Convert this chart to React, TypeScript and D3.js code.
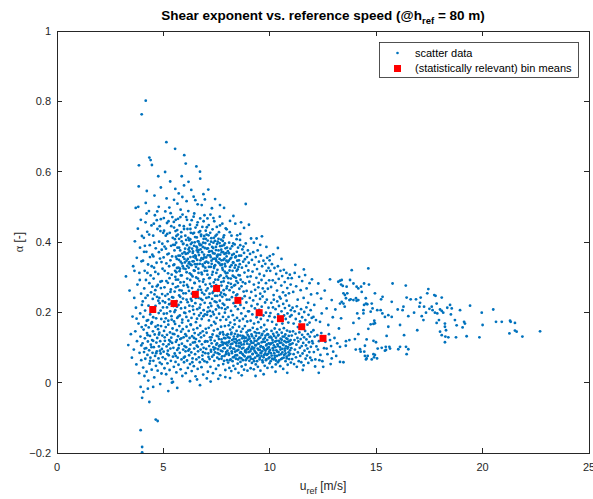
import React from "react";
import * as d3 from "d3";

const X_TICKS = [0, 5, 10, 15, 20, 25];
const Y_TICKS = [-0.2, 0, 0.2, 0.4, 0.6, 0.8, 1];

const binCenters = [4.5, 5.5, 6.5, 7.5, 8.5, 9.5, 10.5, 11.5, 12.5];
const binMeans = [0.208, 0.225, 0.251, 0.268, 0.234, 0.199, 0.182, 0.159, 0.126];

const scatter3 = [[3.24,.302],[3.35,.107],[3.41,.262],[3.47,.138],[3.52,.071],[3.55,.188],[3.58,.331],[3.61,.094],[3.63,.241],[3.66,.402],[3.68,.146],[3.70,.497],[3.71,.213],[3.73,.052],[3.75,.355],[3.76,.118],[3.78,.279],[3.80,.438],[3.82,.500],[3.83,.168],[3.84,.558],[3.85,.618],[3.86,.027],[3.87,.312],[3.88,.085],[3.90,.384],[3.91,.197],[3.92,.131],[3.93,-.012],[3.93,-.135],[3.94,.463],[3.95,.253],[3.96,.064],[3.97,.345],[3.98,.763],[3.98,.158],[3.99,.221],[3.99,.417],[4.00,-.043],[4.00,-.183],[4.00,-.198],[3.89,.292],[3.74,.182],[3.64,.318],[3.96,.106]];

const scatter4 = [[4.02,.112],[4.05,.043],[4.07,.151],[4.09,.087],[4.11,.019],[4.13,.126],[4.15,.068],[4.17,.163],[4.19,.098],[4.21,.031],[4.23,.141],[4.25,.079],[4.27,.117],[4.29,.006],[4.31,.157],[4.33,.092],[4.35,.054],[4.37,.133],[4.39,.071],[4.41,.108],[4.43,.168],[4.45,.037],[4.47,.121],[4.49,.085],[4.51,.146],[4.53,.062],[4.55,.101],[4.57,.015],[4.59,.137],[4.61,.076],[4.63,.159],[4.65,.048],[4.67,.114],[4.69,.089],[4.71,.127],[4.73,.034],[4.75,.152],[4.77,.069],[4.79,.103],[4.81,.142],[4.83,.057],[4.85,.118],[4.87,.083],[4.89,.161],[4.91,.026],[4.93,.096],[4.95,.134],[4.97,.072],[4.99,.109],
[4.03,.231],[4.06,.187],[4.10,.268],[4.14,.205],[4.18,.292],[4.22,.176],[4.26,.248],[4.30,.219],[4.34,.283],[4.38,.194],[4.42,.257],[4.46,.172],[4.50,.238],[4.54,.296],[4.58,.209],[4.62,.263],[4.66,.183],[4.70,.244],[4.74,.278],[4.78,.198],[4.82,.226],[4.86,.287],[4.90,.181],[4.94,.252],[4.98,.214],[4.16,.241],[4.48,.273],[4.76,.233],[4.28,.178],[4.88,.269],
[4.04,.347],[4.08,.412],[4.12,.318],[4.16,.456],[4.20,.372],[4.24,.429],[4.28,.336],[4.32,.488],[4.36,.391],[4.40,.305],[4.44,.447],[4.48,.364],[4.52,.418],[4.56,.327],[4.60,.476],[4.64,.382],[4.68,.341],[4.72,.437],[4.76,.309],[4.80,.401],[4.84,.353],[4.88,.465],[4.92,.378],[4.96,.324],[4.99,.426],[4.13,.389],[4.37,.357],[4.57,.398],[4.69,.462],[4.91,.343],[4.25,.312],[4.45,.331],[4.83,.445],[4.62,.315],[4.09,.372],[4.21,.481],[4.53,.359],[4.79,.371],[4.95,.395],[4.33,.421],
[4.17,.802],[4.34,.640],[4.40,.633],[4.46,.619],[4.76,.587],[4.17,.511],[4.78,.500],[4.06,-.026],[4.34,-.055],[4.64,-.105],[4.73,-.109],[4.22,.545],[4.58,.532],[4.88,.555],[4.52,-.012],[4.85,-.004],[4.27,-.017]];

const scatter5 = [[5.14,.684],[5.55,.665],[5.98,.647],[5.86,.587],[5.56,.551],[5.97,.561],[5.15,.524],[5.50,.520],[5.23,-.024],[5.40,.000],[5.45,.002],[5.65,-.015],[5.32,.572],[5.72,.538],[5.08,.599],[5.89,.528],
[5.01,.088],[5.03,.147],[5.05,.041],[5.07,.119],[5.09,.067],[5.11,.158],[5.13,.024],[5.15,.103],[5.17,.136],[5.19,.055],[5.21,.091],[5.23,.165],[5.25,.078],[5.27,.121],[5.29,.036],[5.31,.143],[5.33,.097],[5.35,.062],[5.37,.128],[5.39,.011],[5.41,.113],[5.43,.154],[5.45,.074],[5.47,.099],[5.49,.045],[5.51,.138],[5.53,.083],[5.55,.167],[5.57,.059],[5.59,.116],[5.61,.029],[5.63,.149],[5.65,.093],[5.67,.071],[5.69,.132],[5.71,.051],[5.73,.107],[5.75,.161],[5.77,.085],[5.79,.124],[5.81,.038],[5.83,.145],[5.85,.066],[5.87,.111],[5.89,.019],[5.91,.152],[5.93,.094],[5.95,.129],[5.97,.058],[5.99,.104],
[5.02,.196],[5.05,.271],[5.08,.228],[5.11,.183],[5.14,.289],[5.17,.214],[5.20,.252],[5.23,.176],[5.26,.237],[5.29,.297],[5.32,.203],[5.35,.265],[5.38,.189],[5.41,.243],[5.44,.281],[5.47,.218],[5.50,.174],[5.53,.259],[5.56,.206],[5.59,.293],[5.62,.232],[5.65,.184],[5.68,.274],[5.71,.221],[5.74,.248],[5.77,.191],[5.80,.285],[5.83,.211],[5.86,.262],[5.89,.179],[5.92,.239],[5.95,.276],[5.98,.199],[5.36,.225],[5.79,.244],
[5.01,.356],[5.03,.432],[5.06,.318],[5.09,.487],[5.12,.381],[5.14,.339],[5.17,.454],[5.20,.402],[5.22,.311],[5.25,.367],[5.28,.498],[5.30,.426],[5.33,.348],[5.36,.389],[5.39,.307],[5.42,.471],[5.44,.412],[5.47,.334],[5.50,.441],[5.52,.376],[5.55,.318],[5.58,.463],[5.60,.398],[5.63,.352],[5.66,.509],[5.68,.421],[5.71,.327],[5.74,.384],[5.76,.447],[5.79,.361],[5.82,.305],[5.84,.415],[5.87,.339],[5.90,.478],[5.92,.394],[5.95,.325],[5.97,.437],[5.99,.371],[5.11,.418],[5.27,.331],[5.46,.392],[5.61,.314],[5.81,.492],[5.19,.365],[5.37,.445],[5.54,.408],[5.73,.349],[5.93,.357],[5.05,.387],[5.41,.359],[5.69,.466],[5.86,.402],[5.24,.459],[5.57,.431],[5.78,.324]];

const scatter6 = [[6.05,.623],[6.55,.615],[6.72,.600],[6.73,.580],[6.88,.536],[6.09,.516],[6.50,.519],[6.61,.507],[6.80,.505],[6.72,-.007],[6.31,.548],[6.18,.571],[6.42,.529],[6.95,.521],[6.25,.004],[6.58,.009],
[6.01,.074],[6.03,.138],[6.05,.027],[6.07,.101],[6.09,.159],[6.11,.063],[6.13,.119],[6.15,.042],[6.17,.091],[6.19,.147],[6.21,.078],[6.23,.127],[6.25,.053],[6.27,.108],[6.29,.164],[6.31,.086],[6.33,.033],[6.35,.132],[6.37,.069],[6.39,.114],[6.41,.151],[6.43,.047],[6.45,.097],[6.47,.141],[6.49,.081],[6.51,.018],[6.53,.124],[6.55,.066],[6.57,.105],[6.59,.155],[6.61,.039],[6.63,.089],[6.65,.136],[6.67,.072],[6.69,.118],[6.71,.058],[6.73,.162],[6.75,.094],[6.77,.129],[6.79,.044],[6.81,.109],[6.83,.077],[6.85,.146],[6.87,.023],[6.89,.099],[6.91,.134],[6.93,.061],[6.95,.116],[6.97,.084],[6.99,.153],
[6.02,.213],[6.05,.254],[6.08,.187],[6.11,.278],[6.14,.229],[6.17,.176],[6.20,.261],[6.23,.203],[6.26,.292],[6.29,.238],[6.32,.184],[6.35,.269],[6.38,.217],[6.41,.247],[6.44,.195],[6.47,.283],[6.50,.226],[6.53,.172],[6.56,.258],[6.59,.209],[6.62,.296],[6.65,.241],[6.68,.191],[6.71,.273],[6.74,.222],[6.77,.264],[6.80,.181],[6.83,.235],[6.86,.287],[6.89,.206],[6.92,.251],[6.95,.194],[6.98,.279],[6.33,.233],[6.76,.198],
[6.01,.342],[6.03,.418],[6.05,.366],[6.07,.471],[6.09,.314],[6.11,.391],[6.13,.437],[6.15,.352],[6.17,.488],[6.19,.327],[6.21,.405],[6.23,.373],[6.25,.449],[6.27,.336],[6.29,.394],[6.31,.307],[6.33,.462],[6.35,.381],[6.37,.345],[6.39,.424],[6.41,.358],[6.43,.319],[6.45,.481],[6.47,.399],[6.49,.362],[6.51,.441],[6.53,.329],[6.55,.387],[6.57,.413],[6.59,.349],[6.61,.456],[6.63,.371],[6.65,.312],[6.67,.428],[6.69,.395],[6.71,.338],[6.73,.467],[6.75,.379],[6.77,.421],[6.79,.354],[6.81,.308],[6.83,.443],[6.85,.386],[6.87,.331],[6.89,.409],[6.91,.364],[6.93,.476],[6.95,.341],[6.97,.397],[6.99,.432],[6.12,.332],[6.26,.408],[6.38,.369],[6.52,.354],[6.66,.377],[6.78,.392],[6.94,.318],[6.18,.379],[6.44,.426],[6.58,.384],[6.86,.352],[6.22,.343],[6.48,.337],[6.64,.402],[6.92,.417]];

const scatter7 = [[7.11,.549],[7.66,.505],[7.22,.003],[7.43,.522],[7.85,.497],[7.28,.496],[7.58,.011],[7.91,.016],[7.04,.012],
[7.01,.356],[7.03,.421],[7.05,.318],[7.07,.467],[7.09,.382],[7.11,.341],[7.13,.448],[7.15,.297],[7.17,.393],[7.19,.362],[7.21,.478],[7.23,.329],[7.25,.411],[7.27,.374],[7.29,.307],[7.31,.436],[7.33,.352],[7.35,.398],[7.37,.285],[7.39,.459],[7.41,.367],[7.43,.334],[7.45,.417],[7.47,.386],[7.49,.312],[7.51,.443],[7.53,.358],[7.55,.401],[7.57,.293],[7.59,.376],[7.61,.428],[7.63,.339],[7.65,.472],[7.67,.364],[7.69,.305],[7.71,.407],[7.73,.348],[7.75,.389],[7.77,.452],[7.79,.321],[7.81,.371],[7.83,.288],[7.85,.419],[7.87,.353],[7.89,.396],[7.91,.331],[7.93,.439],[7.95,.368],[7.97,.302],[7.99,.384],[7.14,.372],[7.26,.347],[7.38,.326],[7.52,.361],[7.64,.397],[7.76,.336],[7.88,.316],[7.08,.404],[7.34,.383],[7.46,.351],[7.58,.342],[7.72,.378],[7.84,.391],[7.96,.347],[7.42,.403],
[7.02,.241],[7.05,.193],[7.08,.268],[7.11,.214],[7.14,.177],[7.17,.253],[7.20,.226],[7.23,.189],[7.26,.274],[7.29,.238],[7.32,.201],[7.35,.259],[7.38,.173],[7.41,.231],[7.44,.266],[7.47,.208],[7.50,.184],[7.53,.247],[7.56,.219],[7.59,.271],[7.62,.196],[7.65,.233],[7.68,.178],[7.71,.256],[7.74,.212],[7.77,.244],[7.80,.187],[7.83,.263],[7.86,.221],[7.89,.199],[7.92,.249],[7.95,.179],[7.98,.236],[7.48,.277],[7.18,.204],
[7.01,.096],[7.03,.142],[7.05,.058],[7.07,.117],[7.09,.031],[7.11,.083],[7.13,.156],[7.15,.104],[7.17,.067],[7.19,.129],[7.21,.045],[7.23,.093],[7.25,.163],[7.27,.112],[7.29,.074],[7.31,.137],[7.33,.027],[7.35,.101],[7.37,.148],[7.39,.062],[7.41,.119],[7.43,.086],[7.45,.168],[7.47,.039],[7.49,.108],[7.51,.133],[7.53,.071],[7.55,.152],[7.57,.095],[7.59,.049],[7.61,.124],[7.63,.081],[7.65,.139],[7.67,.021],[7.69,.106],[7.71,.159],[7.73,.068],[7.75,.115],[7.77,.089],[7.79,.144],[7.81,.053],[7.83,.098],[7.85,.127],[7.87,.076],[7.89,.161],[7.91,.036],[7.93,.111],[7.95,.087],[7.97,.135],[7.99,.064],[7.22,.121],[7.44,.098],[7.62,.103],[7.84,.113],[7.36,.079]];

const scatter8 = [[8.87,.508],[8.29,.474],[8.13,.460],[8.65,.456],[8.79,.440],[8.47,.419],[8.20,.418],[8.60,.406],[8.13,.013],[8.68,.021],[8.38,.452],
[8.01,.312],[8.03,.374],[8.05,.284],[8.07,.347],[8.09,.398],[8.11,.263],[8.13,.329],[8.15,.381],[8.17,.296],[8.19,.355],[8.21,.271],[8.23,.388],[8.25,.318],[8.27,.342],[8.29,.257],[8.31,.366],[8.33,.301],[8.35,.393],[8.37,.278],[8.39,.334],[8.41,.359],[8.43,.289],[8.45,.372],[8.47,.251],[8.49,.322],[8.51,.384],[8.53,.306],[8.55,.348],[8.57,.267],[8.59,.337],[8.61,.391],[8.63,.293],[8.65,.361],[8.67,.274],[8.69,.327],[8.71,.379],[8.73,.286],[8.75,.344],[8.77,.259],[8.79,.369],[8.81,.313],[8.83,.351],[8.85,.282],[8.87,.396],[8.89,.332],[8.91,.261],[8.93,.357],[8.95,.301],[8.97,.376],[8.99,.319],
[8.02,.214],[8.06,.187],[8.10,.236],[8.14,.171],[8.18,.204],[8.22,.243],[8.26,.192],[8.30,.226],[8.34,.178],[8.38,.217],[8.42,.248],[8.46,.184],[8.50,.209],[8.54,.232],[8.58,.176],[8.62,.221],[8.66,.197],[8.70,.239],[8.74,.181],[8.78,.212],[8.82,.246],[8.86,.189],[8.90,.228],[8.94,.174],[8.98,.203],
[8.01,.091],[8.02,.138],[8.04,.057],[8.05,.114],[8.07,.163],[8.08,.079],[8.10,.042],[8.11,.127],[8.13,.098],[8.14,.151],[8.16,.066],[8.17,.109],[8.19,.033],[8.20,.142],[8.22,.084],[8.23,.121],[8.25,.061],[8.26,.157],[8.28,.097],[8.29,.048],[8.31,.131],[8.32,.073],[8.34,.116],[8.35,.166],[8.37,.088],[8.38,.039],[8.40,.124],[8.41,.068],[8.43,.105],[8.44,.147],[8.46,.078],[8.47,.119],[8.49,.054],[8.50,.136],[8.52,.093],[8.53,.028],[8.55,.112],[8.56,.159],[8.58,.071],[8.59,.102],[8.61,.134],[8.62,.059],[8.64,.087],[8.65,.145],[8.67,.108],[8.68,.046],[8.70,.126],[8.71,.082],[8.73,.153],[8.74,.064],[8.76,.099],[8.77,.131],[8.79,.037],[8.80,.117],[8.82,.075],[8.83,.161],[8.85,.092],[8.86,.051],[8.88,.128],[8.89,.086],[8.91,.143],[8.92,.069],[8.94,.111],[8.95,.034],[8.97,.122],[8.98,.096],[8.99,.148]];

const scatter9 = [[9.02,.449],[9.12,.410],[9.38,.410],[9.63,.416],[9.84,.386],[9.55,.392],[9.25,.398],[9.71,.024],[9.33,.019],
[9.01,.341],[9.04,.287],[9.07,.366],[9.10,.302],[9.13,.258],[9.16,.349],[9.19,.316],[9.22,.371],[9.25,.279],[9.28,.335],[9.31,.264],[9.34,.357],[9.37,.298],[9.40,.323],[9.43,.376],[9.46,.271],[9.49,.344],[9.52,.309],[9.55,.253],[9.58,.361],[9.61,.292],[9.64,.331],[9.67,.268],[9.70,.347],[9.73,.304],[9.76,.259],[9.79,.338],[9.82,.283],[9.85,.318],[9.88,.355],[9.91,.267],[9.94,.326],[9.97,.291],[9.99,.348],[9.48,.284],
[9.02,.203],[9.06,.241],[9.10,.176],[9.14,.218],[9.18,.194],[9.22,.234],[9.26,.168],[9.30,.211],[9.34,.247],[9.38,.186],[9.42,.223],[9.46,.172],[9.50,.207],[9.54,.238],[9.58,.181],[9.62,.216],[9.66,.245],[9.70,.191],[9.74,.164],[9.78,.228],[9.82,.199],[9.86,.236],[9.90,.177],[9.94,.213],[9.98,.189],
[9.01,.087],[9.02,.131],[9.04,.062],[9.05,.108],[9.07,.149],[9.08,.074],[9.10,.041],[9.11,.118],[9.13,.095],[9.14,.137],[9.16,.056],[9.17,.102],[9.19,.081],[9.20,.156],[9.22,.067],[9.23,.113],[9.25,.038],[9.26,.126],[9.28,.091],[9.29,.144],[9.31,.071],[9.32,.107],[9.34,.052],[9.35,.133],[9.37,.084],[9.38,.119],[9.40,.061],[9.41,.152],[9.43,.097],[9.44,.045],[9.46,.124],[9.47,.078],[9.49,.111],[9.50,.141],[9.52,.066],[9.53,.093],[9.55,.128],[9.56,.034],[9.58,.104],[9.59,.157],[9.61,.076],[9.62,.115],[9.64,.089],[9.65,.139],[9.67,.058],[9.68,.101],[9.70,.123],[9.71,.072],[9.73,.146],[9.74,.094],[9.76,.048],[9.77,.116],[9.79,.083],[9.80,.134],[9.82,.064],[9.83,.106],[9.85,.151],[9.86,.079],[9.88,.121],[9.89,.042],[9.91,.098],[9.92,.137],[9.94,.069],[9.95,.112],[9.97,.088],[9.98,.129],[9.99,.055],[9.27,.099],[9.57,.085],[9.87,.096]];

const scatter10 = [[10.38,.383],[10.16,.365],[10.00,.360],[10.55,.352],[10.27,.031],[10.82,.028],
[10.02,.318],[10.06,.272],[10.10,.337],[10.14,.291],[10.18,.249],[10.22,.326],[10.26,.284],[10.30,.309],[10.34,.262],[10.38,.331],[10.42,.295],[10.46,.244],[10.50,.318],[10.54,.276],[10.58,.303],[10.62,.257],[10.66,.321],[10.70,.286],[10.74,.248],[10.78,.312],[10.82,.269],[10.86,.297],[10.90,.254],[10.94,.307],[10.98,.279],
[10.03,.198],[10.07,.227],[10.11,.173],[10.15,.214],[10.19,.236],[10.23,.186],[10.27,.209],[10.31,.165],[10.35,.231],[10.39,.194],[10.43,.218],[10.47,.177],[10.51,.239],[10.55,.203],[10.59,.168],[10.63,.224],[10.67,.191],[10.71,.212],[10.75,.181],[10.79,.233],[10.83,.197],[10.87,.171],[10.91,.219],[10.95,.188],[10.99,.206],
[10.01,.093],[10.03,.131],[10.04,.061],[10.06,.112],[10.08,.147],[10.09,.077],[10.11,.044],[10.13,.121],[10.14,.098],[10.16,.139],[10.18,.066],[10.19,.106],[10.21,.084],[10.23,.154],[10.24,.071],[10.26,.117],[10.28,.052],[10.29,.128],[10.31,.092],[10.33,.143],[10.34,.076],[10.36,.109],[10.38,.058],[10.39,.134],[10.41,.087],[10.43,.119],[10.44,.063],[10.46,.151],[10.48,.101],[10.49,.047],[10.51,.125],[10.53,.081],[10.54,.114],[10.56,.142],[10.58,.069],[10.59,.096],[10.61,.131],[10.63,.039],[10.64,.107],[10.66,.155],[10.68,.079],[10.69,.118],[10.71,.091],[10.73,.137],[10.74,.061],[10.76,.103],[10.78,.126],[10.79,.074],[10.81,.148],[10.83,.097],[10.84,.051],[10.86,.116],[10.88,.086],[10.89,.133],[10.91,.067],[10.93,.108],[10.94,.145],[10.96,.082],[10.98,.121],[10.99,.057]];

const scatter11 = [[11.55,.036],[11.20,.335],[11.60,.322],
[11.03,.297],[11.10,.258],[11.17,.312],[11.24,.274],[11.31,.236],[11.38,.301],[11.45,.263],[11.52,.289],[11.59,.241],[11.66,.306],[11.73,.268],[11.80,.227],[11.87,.283],[11.94,.251],[11.98,.294],
[11.02,.192],[11.07,.213],[11.12,.168],[11.17,.203],[11.22,.181],[11.27,.217],[11.32,.158],[11.37,.196],[11.42,.174],[11.47,.209],[11.52,.186],[11.57,.162],[11.62,.201],[11.67,.178],[11.72,.214],[11.77,.165],[11.82,.193],[11.87,.171],[11.92,.206],[11.97,.184],
[11.01,.098],[11.03,.134],[11.05,.067],[11.07,.112],[11.09,.146],[11.12,.081],[11.14,.053],[11.16,.121],[11.18,.094],[11.21,.139],[11.23,.072],[11.25,.108],[11.27,.045],[11.30,.127],[11.32,.086],[11.34,.117],[11.36,.061],[11.39,.143],[11.41,.099],[11.43,.076],[11.45,.124],[11.48,.058],[11.50,.104],[11.52,.136],[11.54,.083],[11.57,.113],[11.59,.049],[11.61,.129],[11.63,.091],[11.66,.147],[11.68,.068],[11.70,.106],[11.72,.123],[11.75,.077],[11.77,.097],[11.79,.138],[11.81,.056],[11.84,.115],[11.86,.087],[11.88,.131],[11.90,.071],[11.93,.102],[11.95,.144],[11.97,.064],[11.99,.118]];

const scatter12 = [[12.28,.282],[12.83,.294],[13.22,.287],[12.91,.235],[12.23,.254],[12.67,.211],[12.44,.197],[12.05,.187],[12.17,.178],[12.36,.173],[12.75,.164],[12.05,.149],[12.23,.135],[12.51,.126],[12.83,.121],[13.17,.112],[12.67,.097],[12.98,.088],[12.91,.069],[12.33,.064],[12.51,.045],[12.30,.028],
[12.02,.112],[12.07,.087],[12.11,.131],[12.14,.066],[12.19,.103],[12.26,.094],[12.31,.118],[12.38,.079],[12.42,.141],[12.47,.061],[12.55,.098],[12.61,.116],[12.71,.081],[12.78,.138],[12.88,.104],[13.04,.127],[13.12,.076],[12.09,.221],[12.41,.239],[12.58,.262],[12.96,.186],[13.08,.208],[12.13,.046],[12.86,.053],[13.25,.154]];

const scatterTail = [[13.30,.290],[13.38,.292],[13.35,.279],[13.43,.275],[13.61,.273],[13.77,.292],[13.93,.282],[14.08,.273],[14.16,.268],[14.29,.273],[14.32,.258],[14.43,.282],[14.66,.279],[13.46,.254],[13.64,.254],[13.53,.249],[13.58,.240],[13.74,.235],[13.80,.237],[13.93,.235],[14.05,.240],[14.08,.233],[14.16,.235],[13.38,.230],[13.30,.225],[13.46,.225],[13.52,.216],[13.35,.183],[13.93,.170],[14.11,.197],[14.19,.183],[14.40,.197],[14.40,.206],[14.43,.221],[14.52,.225],[14.58,.223],[14.51,.240],[14.79,.225],[14.74,.202],[14.83,.211],[14.94,.254],[14.91,.176],[14.87,.167],[14.74,.166],[14.63,.153],[14.94,.169],[15.05,.206],[15.21,.206],[15.29,.197],[15.30,.244],[15.23,.237],[15.41,.187],[15.57,.192],[15.57,.159],[15.73,.187],[15.77,.282],[15.73,.230],[16.01,.208],[16.12,.164],[16.24,.206],[16.28,.216],[16.39,.276],[16.43,.242],[16.51,.189],[16.62,.237],[16.78,.199],[16.87,.237],[16.93,.149],[17.03,.216],[17.06,.227],[17.09,.242],[17.14,.189],[17.22,.178],[17.25,.216],[17.34,.199],[17.40,.254],[17.45,.266],[17.50,.210],[17.61,.216],[17.73,.249],[17.79,.247],[17.65,.206],[17.84,.225],[17.87,.197],[17.76,.199],[17.84,.170],[17.95,.178],[18.00,.208],[18.08,.204],[18.08,.242],[18.15,.199],[18.23,.168],[18.28,.149],[18.23,.159],[18.34,.213],[18.47,.221],[18.55,.211],[18.51,.194],[18.00,.145],[18.08,.135],[18.25,.131],[18.39,.129],[18.23,.115],[18.70,.178],[18.75,.129],[18.78,.163],[18.94,.206],[19.06,.157],[19.13,.173],[19.17,.168],[19.25,.132],[19.41,.219],[19.85,.129],[19.96,.199],[20.00,.164],[20.50,.208],[20.63,.173],[20.90,.173],[21.26,.140],[21.29,.176],[21.32,.173],[21.52,.170],[21.52,.148],[21.60,.145],[21.87,.131],[22.70,.146],
[13.30,.102],[13.58,.118],[13.57,.105],[13.74,.121],[14.00,.124],[14.04,.094],[14.16,.138],[14.24,.095],[14.27,.088],[14.44,.088],[14.47,.105],[14.55,.123],[14.55,.069],[14.47,.076],[14.52,.066],[14.60,.076],[14.79,.066],[14.87,.119],[14.87,.081],[14.90,.072],[14.94,.079],[14.99,.115],[15.04,.069],[15.07,.097],[15.26,.099],[15.45,.102],[15.46,.093],[15.49,.133],[15.62,.102],[15.65,.097],[15.41,.091],[16.04,.095],[16.12,.102],[16.40,.102],[16.43,.081],[16.51,.095],[16.31,.135],[13.30,.059],[13.46,.058],[13.85,.320],[14.63,.325]];

const scatterUpperCore = [[5.51,.336],[5.54,.392],[5.56,.301],[5.59,.358],[5.61,.417],[5.64,.326],[5.66,.384],[5.69,.293],[5.71,.361],[5.74,.409],[5.76,.317],[5.79,.376],[5.81,.344],[5.84,.428],[5.86,.305],[5.89,.367],[5.91,.331],[5.94,.395],[5.96,.286],[5.99,.352],
[6.02,.381],[6.04,.323],[6.07,.406],[6.09,.347],[6.12,.296],[6.14,.368],[6.17,.412],[6.19,.339],[6.22,.384],[6.24,.311],[6.27,.357],[6.29,.426],[6.32,.334],[6.34,.398],[6.37,.302],[6.39,.373],[6.42,.345],[6.44,.389],[6.47,.318],[6.49,.414],
[6.52,.359],[6.54,.299],[6.57,.376],[6.59,.337],[6.62,.402],[6.64,.324],[6.67,.363],[6.69,.289],[6.72,.391],[6.74,.348],[6.77,.417],[6.79,.313],[6.82,.371],[6.84,.336],[6.87,.398],[6.89,.294],[6.92,.356],[6.94,.383],[6.97,.327],[6.99,.409],
[7.02,.344],[7.04,.381],[7.07,.307],[7.09,.362],[7.12,.419],[7.14,.329],[7.17,.374],[7.19,.298],[7.22,.357],[7.24,.401],[7.27,.338],[7.29,.386],[7.32,.315],[7.34,.368],[7.37,.412],[7.39,.331],[7.42,.353],[7.44,.293],[7.47,.377],[7.49,.346],
[7.52,.394],[7.54,.321],[7.57,.364],[7.59,.409],[7.62,.301],[7.64,.352],[7.67,.388],[7.69,.334],[7.72,.286],[7.74,.371],[7.77,.326],[7.79,.403],[7.82,.349],[7.84,.297],[7.87,.366],[7.89,.338],[7.92,.382],[7.94,.311],[7.97,.359],[7.99,.274],
[8.02,.343],[8.05,.297],[8.08,.368],[8.11,.319],[8.14,.352],[8.17,.281],[8.20,.334],[8.23,.363],[8.26,.304],[8.29,.341],[8.32,.276],[8.35,.327],[8.38,.356],[8.41,.298],[8.44,.318],[8.47,.347],[8.50,.284],[8.53,.329],[8.56,.361],[8.59,.305],
[4.55,.452],[4.71,.487],[4.86,.431],[5.02,.468],[5.18,.423],[5.34,.482],[5.49,.457],[5.65,.434],[5.80,.471],[5.96,.445],[6.11,.463],[6.27,.437],[6.42,.472],[6.58,.448],[6.73,.431],[6.89,.459],[7.04,.442],[7.20,.426],[7.35,.468],[7.51,.421],[7.66,.447],[7.82,.413],[7.97,.436],[8.12,.428],[8.28,.396],[8.44,.408],[8.61,.423],[8.76,.387]];

const scatterMidCore = [[4.52,.186],[4.58,.251],[4.63,.218],[4.69,.274],[4.74,.163],[4.81,.241],[4.87,.205],[4.93,.289],[4.97,.232],[5.04,.173],[5.09,.247],[5.16,.197],[5.21,.284],[5.27,.223],[5.33,.258],[5.39,.179],[5.46,.242],[5.52,.201],[5.58,.271],[5.64,.216],[5.70,.188],[5.76,.263],[5.82,.229],[5.88,.171],[5.94,.254],[6.03,.198],[6.09,.236],[6.16,.272],[6.22,.219],[6.28,.166],[6.34,.253],[6.40,.207],[6.46,.284],[6.52,.241],[6.58,.182],[6.64,.264],[6.70,.213],[6.76,.238],[6.82,.256],[6.88,.189],[6.94,.227],[7.01,.262],[7.07,.201],[7.13,.243],[7.19,.281],[7.25,.218],[7.31,.255],[7.37,.194],[7.43,.247],[7.49,.229],[7.55,.261],[7.61,.214],[7.67,.249],[7.73,.276],[7.79,.225],[7.85,.252],[7.91,.209],[7.97,.268]];

const scatterLowerCore = [[4.12,.097],[4.26,.135],[4.38,.062],[4.52,.119],[4.66,.084],[4.79,.137],[4.92,.053],[5.06,.129],[5.18,.082],[5.32,.117],[5.44,.139],[5.58,.076],[5.71,.098],[5.84,.126],[5.96,.071],[6.08,.133],[6.22,.095],[6.36,.058],[6.48,.115],[6.62,.102],[6.74,.141],[6.86,.087],[6.98,.118],[7.12,.073],[7.26,.129],[7.38,.094],[4.44,.101],[4.84,.091],[5.25,.109],[5.63,.121],[6.04,.089],[6.44,.127],[6.84,.066],[7.24,.088],
[7.52,.112],[7.55,.084],[7.58,.131],[7.61,.067],[7.64,.105],[7.67,.142],[7.70,.091],[7.73,.123],[7.76,.075],[7.79,.108],[7.82,.137],[7.85,.062],[7.88,.098],[7.91,.126],[7.94,.081],[7.97,.114],
[8.01,.106],[8.04,.129],[8.06,.083],[8.09,.117],[8.12,.064],[8.15,.101],[8.18,.138],[8.21,.089],[8.24,.111],[8.27,.072],[8.30,.124],[8.33,.096],[8.36,.139],[8.39,.078],[8.42,.113],[8.45,.091],[8.48,.131],[8.51,.066],[8.54,.103],[8.57,.121],[8.60,.085],[8.63,.114],[8.66,.069],[8.69,.097],[8.72,.133],[8.75,.079],[8.78,.109],[8.81,.126],[8.84,.088],[8.87,.064],[8.90,.118],[8.93,.095],[8.96,.136],[8.99,.073],
[9.02,.101],[9.05,.125],[9.08,.089],[9.11,.068],[9.14,.113],[9.17,.132],[9.20,.082],[9.23,.097],[9.26,.061],[9.29,.119],[9.32,.087],[9.35,.106],[9.38,.141],[9.41,.076],[9.44,.111],[9.47,.093],[9.50,.128],[9.53,.071],[9.56,.102],[9.59,.084],[9.62,.135],[9.65,.063],[9.68,.116],[9.71,.098],[9.74,.079],[9.77,.127],[9.80,.091],[9.83,.066],[9.86,.109],[9.89,.138],[9.92,.082],[9.95,.101],[9.98,.072],
[10.02,.109],[10.05,.084],[10.08,.127],[10.11,.068],[10.14,.114],[10.17,.092],[10.20,.133],[10.23,.077],[10.26,.101],[10.29,.063],[10.32,.119],[10.35,.088],[10.38,.104],[10.41,.136],[10.44,.079],[10.47,.113],[10.50,.094],[10.53,.067],[10.56,.122],[10.59,.086],[10.62,.108],[10.65,.071],[10.68,.131],[10.71,.097],[10.74,.083],[10.77,.115],[10.80,.069],[10.83,.124],[10.86,.101],[10.89,.078],[10.92,.118],[10.95,.092],[10.98,.109]];

const scatterData = [
  ...scatter3, ...scatter4, ...scatter5, ...scatter6, ...scatter7, ...scatter8,
  ...scatter9, ...scatter10, ...scatter11, ...scatter12, ...scatterTail,
  ...scatterUpperCore, ...scatterMidCore, ...scatterLowerCore,
];

const W = 593, H = 499;
const PLOT = { left: 57, right: 589, top: 31, bottom: 453 };
const BLUE = "#0072BD";
const AXC = "#262626";
const FONT = "'Liberation Sans', Arial, Helvetica, sans-serif";

export default function App() {
  const x = d3.scaleLinear().domain([0, 25]).range([PLOT.left, PLOT.right]);
  const y = d3.scaleLinear().domain([-0.2, 1]).range([PLOT.bottom, PLOT.top]);
  const tick = 5;
  const fmt = (v: number) => (Math.abs(v) < 1e-9 ? "0" : d3.format("~g")(+v.toFixed(2)));
  const sq = 7;

  return (
    <svg width={W} height={H} style={{ position: "absolute", left: 0, top: 0, background: "#fff" }} fontFamily={FONT}>
      <rect x={0} y={0} width={W} height={H} fill="#fff" />
      <g>
        {scatterData.map((d, i) => (
          <circle key={i} cx={x(d[0])} cy={y(d[1])} r={1.4} fill={BLUE} />
        ))}
      </g>
      <g>
        {binCenters.map((c, i) => (
          <rect key={i} x={x(c) - sq / 2} y={y(binMeans[i]) - sq / 2} width={sq} height={sq} fill="#FF0000" />
        ))}
      </g>
      <rect x={PLOT.left} y={PLOT.top} width={PLOT.right - PLOT.left} height={PLOT.bottom - PLOT.top} fill="none" stroke={AXC} strokeWidth={1} shapeRendering="crispEdges" />
      <g stroke={AXC} strokeWidth={1} shapeRendering="crispEdges">
        {X_TICKS.map((t) => (
          <g key={"xt" + t}>
            <line x1={x(t)} x2={x(t)} y1={PLOT.bottom} y2={PLOT.bottom - tick} />
            <line x1={x(t)} x2={x(t)} y1={PLOT.top} y2={PLOT.top + tick} />
          </g>
        ))}
        {Y_TICKS.map((t) => (
          <g key={"yt" + t}>
            <line x1={PLOT.left} x2={PLOT.left + tick} y1={y(t)} y2={y(t)} />
            <line x1={PLOT.right} x2={PLOT.right - tick} y1={y(t)} y2={y(t)} />
          </g>
        ))}
      </g>
      <g fontSize={11} fill={AXC}>
        {X_TICKS.map((t) => (
          <text key={"xl" + t} x={x(t)} y={PLOT.bottom + 18} textAnchor="middle">{fmt(t)}</text>
        ))}
        {Y_TICKS.map((t) => (
          <text key={"yl" + t} x={PLOT.left - 6} y={y(t) + 4} textAnchor="end">{fmt(t)}</text>
        ))}
      </g>
      <text x={(PLOT.left + PLOT.right) / 2} y={20} textAnchor="middle" fontSize={13.5} fontWeight="bold" fill="#000">
        Shear exponent vs. reference speed (@h
        <tspan fontSize={9.5} dy={4}>ref</tspan>
        <tspan dy={-4}> = 80 m)</tspan>
      </text>
      <text x={(PLOT.left + PLOT.right) / 2} y={490} textAnchor="middle" fontSize={12} fill={AXC}>
        u<tspan fontSize={9} dy={4}>ref</tspan><tspan dy={-4}> [m/s]</tspan>
      </text>
      <text transform={`translate(23, ${(PLOT.top + PLOT.bottom) / 2}) rotate(-90)`} textAnchor="middle" fontSize={12} fill={AXC}>
        <tspan fontFamily="'Liberation Serif', 'DejaVu Serif', serif">α</tspan> [-]
      </text>
      <g>
        <rect x={379.5} y={42.5} width={199} height={35} fill="#fff" stroke={AXC} strokeWidth={0.8} />
        <circle cx={397.5} cy={53} r={1.3} fill={BLUE} />
        <rect x={397.5 - sq / 2} y={68.5 - sq / 2} width={sq} height={sq} fill="#FF0000" />
        <text x={415} y={57} fontSize={11} fill="#000">scatter data</text>
        <text x={415} y={72} fontSize={11} fill="#000">(statistically relevant) bin means</text>
      </g>
    </svg>
  );
}
